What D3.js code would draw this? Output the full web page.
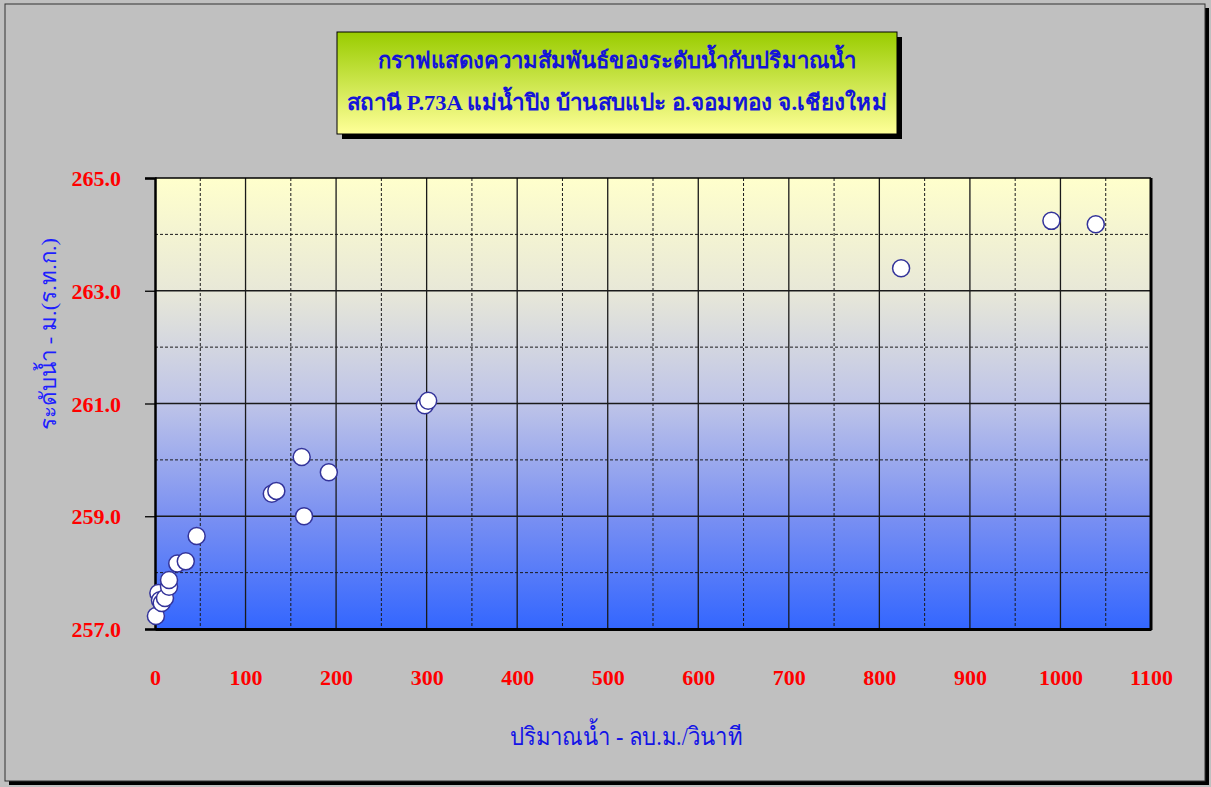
<!DOCTYPE html>
<html>
<head>
<meta charset="utf-8">
<script src="https://cdn.jsdelivr.net/npm/d3@7"></script>
<style>
  body { margin: 0; background: #c0c0c0; }
  svg { display: block; }
</style>
</head>
<body>
<div id="chart"></div>
<script>
// discharge (cms) vs water level (m. MSL)
const flows = [1, 3.7, 5.5, 7.4, 11, 15.5, 15.5, 24.6, 34, 46, 129, 134, 162, 164.6, 192, 298, 301.7, 824, 990, 1039];
const levels = [257.23, 257.64, 257.51, 257.46, 257.55, 257.75, 257.87, 258.16, 258.20, 258.65, 259.40, 259.45, 260.05, 259.0, 259.78, 260.97, 261.05, 263.40, 264.24, 264.18];
const xTicks = [0, 100, 200, 300, 400, 500, 600, 700, 800, 900, 1000, 1100];
const yTicks = [257, 259, 261, 263, 265];
const titleLines = ["กราฟแสดงความสัมพันธ์ของระดับน้ำกับปริมาณน้ำ", "สถานี P.73A แม่น้ำปิง บ้านสบแปะ อ.จอมทอง จ.เชียงใหม่"];
const xLabel = "ปริมาณน้ำ - ลบ.ม./วินาที";
const yLabel = "ระดับน้ำ - ม.(ร.ท.ก.)";

const W = 1211, H = 787;
let margin = {top: 178, right: 60, bottom: 158, left: 155};
let width = W - margin.left - margin.right;   // 996
let height = H - margin.top - margin.bottom;  // 451

const svg = d3.select("#chart").append("svg")
  .attr("width", W).attr("height", H);

const defs = svg.append("defs");
let pg = defs.append("linearGradient").attr("id", "plotGrad")
  .attr("x1", 0).attr("y1", 0).attr("x2", 0).attr("y2", 1);
[["0%", "#ffffcc"], ["25%", "#e8e8d8"], ["50%", "#bec4e8"], ["75%", "#7a90f2"], ["100%", "#3366ff"]]
  .forEach(s => pg.append("stop").attr("offset", s[0]).attr("stop-color", s[1]));
let tg = defs.append("linearGradient").attr("id", "titleGrad")
  .attr("x1", 0).attr("y1", 0).attr("x2", 0).attr("y2", 1);
tg.append("stop").attr("offset", "0%").attr("stop-color", "#99cc00");
tg.append("stop").attr("offset", "100%").attr("stop-color", "#ffff99");

// outer frame + shadow
svg.append("rect").attr("x", 9).attr("y", 8).attr("width", 1200).attr("height", 777).attr("fill", "#000");
svg.append("rect").attr("x", 5).attr("y", 4).attr("width", 1200).attr("height", 777)
  .attr("fill", "#c0c0c0").attr("stroke", "#333").attr("stroke-width", 1);

// title box
const tb = {x: 337, y: 32, w: 560, h: 102};
svg.append("rect").attr("x", tb.x + 5).attr("y", tb.y + 5).attr("width", tb.w).attr("height", tb.h).attr("fill", "#000");
svg.append("rect").attr("x", tb.x).attr("y", tb.y).attr("width", tb.w).attr("height", tb.h)
  .attr("fill", "url(#titleGrad)").attr("stroke", "#000").attr("stroke-width", 1);
svg.selectAll(".title").data(titleLines).enter().append("text")
  .attr("class", "title")
  .attr("x", tb.x + tb.w / 2)
  .attr("y", (d, i) => 68 + i * 42)
  .attr("text-anchor", "middle")
  .attr("textLength", (d, i) => i === 0 ? 478 : 540)
  .attr("lengthAdjust", "spacingAndGlyphs")
  .style("font-family", "'Liberation Serif', 'DejaVu Serif', serif")
  .style("font-weight", "bold")
  .style("font-size", "22px")
  .attr("fill", "#1414d8")
  .text(d => d);

const x = d3.scaleLinear().domain([0, 1100]).range([0, width]);
const y = d3.scaleLinear().domain([257, 265]).range([height, 0]);

const g = svg.append("g").attr("transform", "translate(" + margin.left + "," + margin.top + ")");

g.append("rect").attr("width", width).attr("height", height).attr("fill", "url(#plotGrad)");

// grid: solid at major, dashed at halves
const xGrid = d3.range(50, 1100, 50);
const yGrid = d3.range(258, 265, 1);
g.selectAll(".vgrid").data(xGrid).enter().append("line")
  .attr("x1", d => x(d)).attr("x2", d => x(d))
  .attr("y1", 0).attr("y2", height)
  .attr("stroke", "#1a1a1a")
  .attr("stroke-width", d => d % 100 === 0 ? 1.3 : 1)
  .attr("stroke-dasharray", d => d % 100 === 0 ? null : "3,2");
g.selectAll(".hgrid").data(yGrid).enter().append("line")
  .attr("x1", 0).attr("x2", width)
  .attr("y1", d => y(d)).attr("y2", d => y(d))
  .attr("stroke", "#1a1a1a")
  .attr("stroke-width", d => (d - 257) % 2 === 0 ? 1.3 : 1)
  .attr("stroke-dasharray", d => (d - 257) % 2 === 0 ? null : "3,2");

// plot border
g.append("line").attr("x1", 0).attr("x2", width).attr("y1", 0).attr("y2", 0).attr("stroke", "#000").attr("stroke-width", 1.5);
g.append("line").attr("x1", width).attr("x2", width).attr("y1", 0).attr("y2", height + 1).attr("stroke", "#000").attr("stroke-width", 3);

// axes
const yAxis = d3.axisLeft(y).tickValues(yTicks).tickSize(10).tickFormat(d3.format(".1f"));
const yg = g.append("g").call(yAxis);
yg.select(".domain").attr("stroke", "#000").attr("stroke-width", 2.5);
yg.selectAll(".tick line").attr("stroke", "#000").attr("stroke-width", 1.3);
yg.selectAll(".tick text")
  .attr("x", -34)
  .attr("dy", "0.35em")
  .attr("fill", "#ff0000")
  .style("font-family", "'Liberation Serif', serif")
  .style("font-weight", "bold")
  .style("font-size", "22px");

const xAxis = d3.axisBottom(x).tickValues(xTicks).tickSize(0).tickFormat(d3.format("d"));
const xg = g.append("g").attr("transform", "translate(0," + height + ")").call(xAxis);
xg.select(".domain").attr("stroke", "#000").attr("stroke-width", 3);
xg.selectAll(".tick text")
  .attr("y", 56)
  .attr("dy", 0)
  .attr("fill", "#ff0000")
  .style("font-family", "'Liberation Serif', serif")
  .style("font-weight", "bold")
  .style("font-size", "22px");

// points
g.selectAll("circle").data(flows).enter().append("circle")
  .attr("cx", d => x(d))
  .attr("cy", (d, i) => y(levels[i]))
  .attr("r", 8.5)
  .attr("fill", "#fff")
  .attr("stroke", "#33339a")
  .attr("stroke-width", 1.5);

// axis titles
svg.append("text")
  .attr("x", 626).attr("y", 745)
  .attr("text-anchor", "middle")
  .attr("textLength", 232)
  .attr("lengthAdjust", "spacingAndGlyphs")
  .attr("fill", "#1414e6")
  .style("font-family", "'Liberation Serif', serif")
  .style("font-size", "25px")
  .text(xLabel);
svg.append("text")
  .attr("transform", "translate(56,334) rotate(-90)")
  .attr("text-anchor", "middle")
  .attr("textLength", 192)
  .attr("lengthAdjust", "spacingAndGlyphs")
  .attr("fill", "#1e1eff")
  .style("font-family", "'Liberation Serif', serif")
  .style("font-size", "22px")
  .text(yLabel);
</script>
</body>
</html>
